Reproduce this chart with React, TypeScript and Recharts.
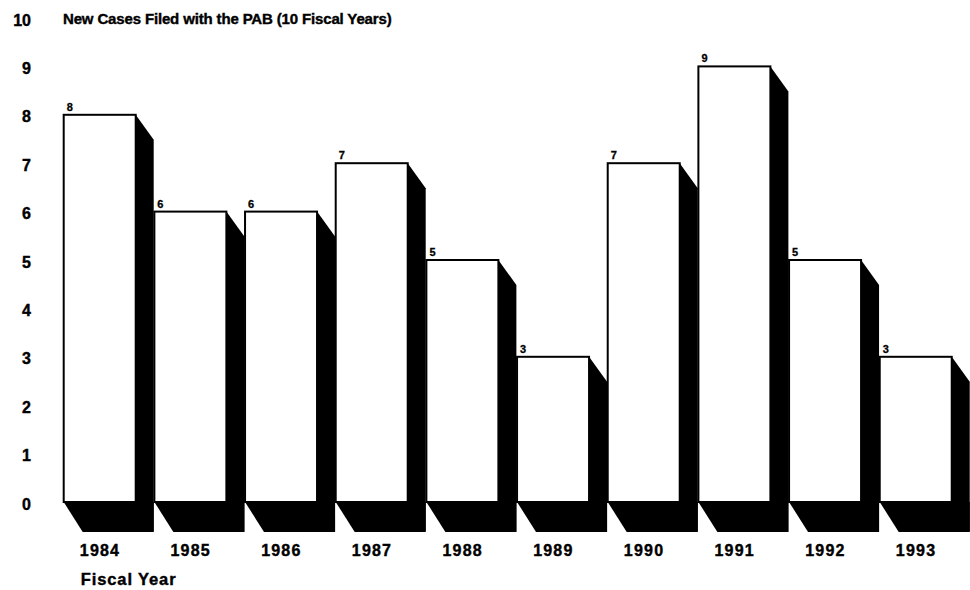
import React from "react";
import { BarChart, Bar, XAxis, YAxis } from "recharts";

const years = ["1984", "1985", "1986", "1987", "1988", "1989", "1990", "1991", "1992", "1993"];
const newCases = [8, 6, 6, 7, 5, 3, 7, 9, 5, 3];
const yTicks = [0, 1, 2, 3, 4, 5, 6, 7, 8, 9, 10];
const title = "New Cases Filed with the PAB (10 Fiscal Years)";
const xTitle = "Fiscal Year";

const data = years.map((y, i) => ({ year: y, cases: newCases[i] }));

const FONT = '"Liberation Sans", Arial, Helvetica, sans-serif';

const Bar3D = (props: any) => {
  const { x, y, width, height, value } = props;
  const base = y + height;
  const dxT = 18, dyT = 25;
  const dxB = 19, dyB = 30;
  const right = x + width;
  const rightFace = `${right},${y} ${right + dxT},${y + dyT} ${right + dxT},${base + dyB} ${right},${base}`;
  const bottomFace = `${x},${base} ${right},${base} ${right + dxT},${base} ${right + dxT},${base + dyB} ${x + dxB},${base + dyB}`;
  return (
    <g>
      <polygon points={rightFace} fill="#000" />
      <polygon points={bottomFace} fill="#000" />
      <rect x={x} y={y} width={width} height={height} fill="#fff" stroke="#000" strokeWidth={2} />
      <text x={x + 3} y={y - 4} fontSize={11} fontWeight="bold" fontFamily={FONT} fill="#000" stroke="#000" strokeWidth={0.3}>
        {value}
      </text>
    </g>
  );
};

const YTick = (props: any) => {
  const { y, payload } = props;
  return (
    <text x={31} y={y + 7.5} textAnchor="end" fontSize={16} fontWeight="bold" fontFamily={FONT} fill="#000" stroke="#000" strokeWidth={0.4}>
      {payload.value}
    </text>
  );
};

const XTick = (props: any) => {
  const { x, y, payload } = props;
  return (
    <text x={x} y={y + 46} textAnchor="middle" fontSize={16} fontWeight="bold" letterSpacing={1.2} fontFamily={FONT} fill="#000" stroke="#000" strokeWidth={0.4}>
      {payload.value}
    </text>
  );
};

export default function App() {
  return (
    <div style={{ position: "absolute", left: 0, top: 0, width: 970, height: 590, background: "#fff" }}>
      <BarChart
        width={970}
        height={590}
        data={data}
        margin={{ top: 18, right: 8.6, left: 0, bottom: 58 }}
        barSize={72}
      >
        <XAxis dataKey="year" axisLine={false} tickLine={false} height={30} tick={<XTick />} interval={0} />
        <YAxis
          domain={[0, 10]}
          ticks={yTicks}
          axisLine={false}
          tickLine={false}
          width={54.7}
          tick={<YTick />}
          interval={0}
        />
        <Bar dataKey="cases" shape={<Bar3D />} isAnimationActive={false} />
        <text x={63} y={24} fontSize={15} fontWeight="bold" letterSpacing={-0.15} fontFamily={FONT} fill="#000" stroke="#000" strokeWidth={0.4}>
          {title}
        </text>
        <text x={80.7} y={585} fontSize={16.5} fontWeight="bold" letterSpacing={0.9} fontFamily={FONT} fill="#000" stroke="#000" strokeWidth={0.4}>
          {xTitle}
        </text>
      </BarChart>
    </div>
  );
}
